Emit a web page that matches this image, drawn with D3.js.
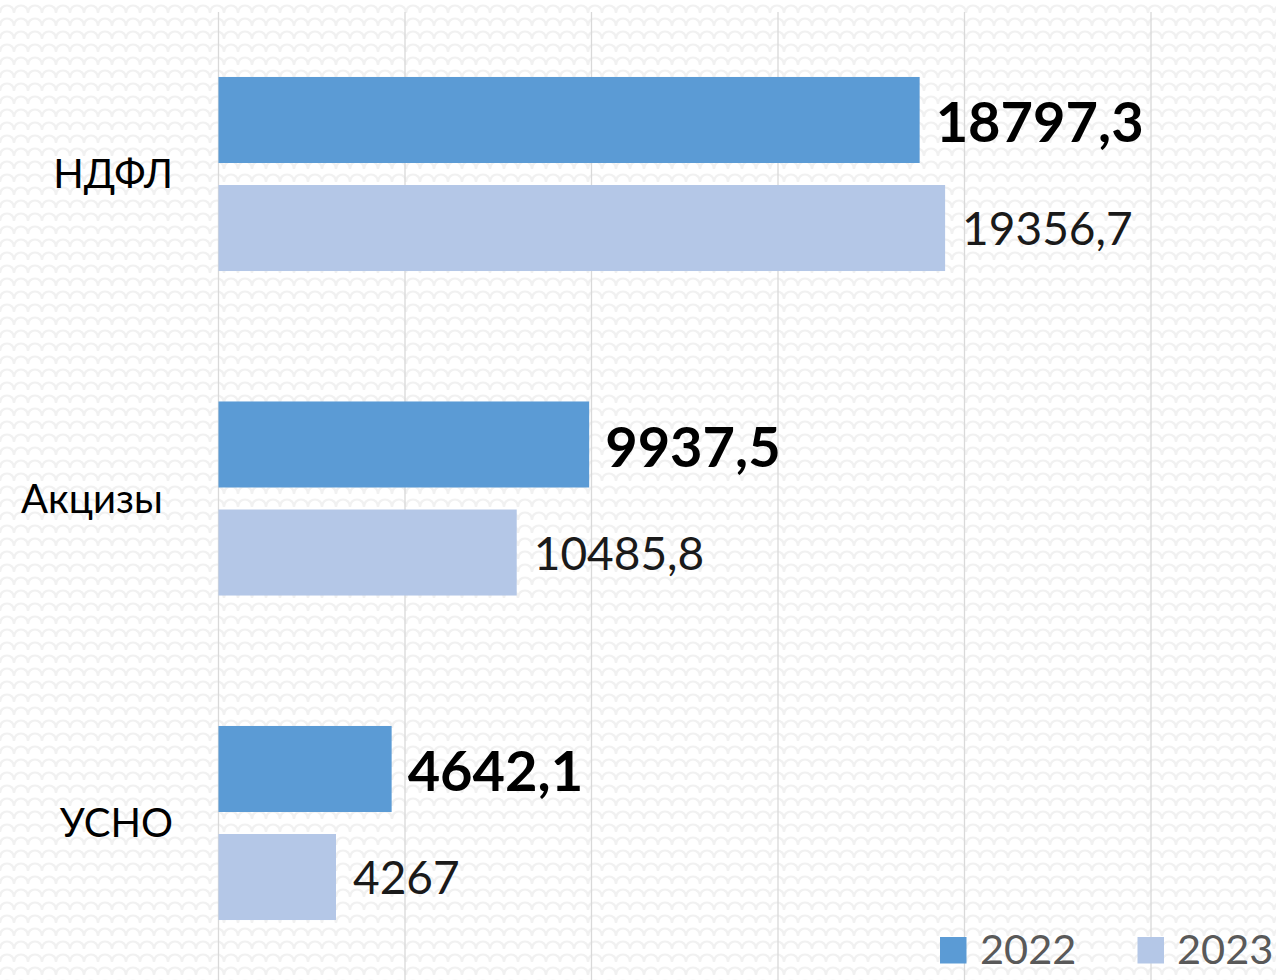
<!DOCTYPE html>
<html>
<head>
<meta charset="utf-8">
<script src="https://cdn.jsdelivr.net/npm/d3@7"></script>
<style>
  html, body { margin: 0; padding: 0; background: #fff; }
  svg { display: block; font-family: Lato, Carlito, Calibri, "Open Sans", sans-serif; }
</style>
</head>
<body>
<svg id="chart" width="1276" height="980"></svg>
<script>
// ---- data ----
const categories = ["НДФЛ", "Акцизы", "УСНО"];
const tickLabels = ["НДФЛ", "Акцизы\u00A0", "УСНО"];
const years = ["2022", "2023"];
const values2022 = [18797.3, 9937.5, 4642.1];
const values2023 = [19480, 7995, 3150];          // bar lengths as drawn
const labels2022 = ["18797,3", "9937,5", "4642,1"];
const labels2023 = ["19356,7", "10485,8", "4267"]; // printed data labels
const xTicks = [0, 5000, 10000, 15000, 20000, 25000];
const colors = ["#5B9BD5", "#B4C7E7"];

// ---- setup ----
const W = 1276, H = 980;
const svg = d3.select("#chart");

// background fish-scale pattern
const defs = svg.append("defs");
const pat = defs.append("pattern")
  .attr("id", "scales").attr("patternUnits", "userSpaceOnUse")
  .attr("width", 28).attr("height", 26);
pat.append("rect").attr("width", 28).attr("height", 26).attr("fill", "#ffffff");
pat.append("path")
  .attr("d", "M0,13 C0,3 14,3 14,13 C14,3 28,3 28,13 M-14,26 C-14,16 0,16 0,26 C0,16 14,16 14,26 C14,16 28,16 28,26 C28,16 42,16 42,26 M-14,0 C-14,-10 0,-10 0,0 C0,-10 14,-10 14,0 C14,-10 28,-10 28,0")
  .attr("fill", "none").attr("stroke", "#f1f1f1").attr("stroke-width", 2.2);
svg.append("rect").attr("width", W).attr("height", H).attr("fill", "url(#scales)");

const x = d3.scaleLinear().domain([0, 25000]).range([218.5, 1151]);
const y = d3.scaleBand().domain(categories).range([11.75, 985.25])
  .paddingInner(0.402).paddingOuter(0.201);
const yInner = d3.scaleBand().domain(years).range([0, y.bandwidth()])
  .paddingInner(0.2037).paddingOuter(0);

// gridlines
svg.append("g").selectAll("line").data(xTicks).join("line")
  .attr("x1", d => x(d)).attr("x2", d => x(d))
  .attr("y1", 12).attr("y2", H)
  .attr("stroke", "#d9d9d9").attr("stroke-width", 1.3);

// category axis labels
const yAxis = d3.axisLeft(y).tickSize(0).tickPadding(0)
  .tickFormat((d, i) => tickLabels[i]);
const gy = svg.append("g").attr("transform", "translate(173,0)").call(yAxis);
gy.select(".domain").remove();
gy.selectAll("text")
  .attr("font-size", 40).attr("fill", "#000")
  .attr("dy", "0.36em")
  .style("font-family", "Lato, Carlito, Calibri, sans-serif");

// bars
const series = [
  { year: "2022", values: values2022, labels: labels2022, color: colors[0], bold: true },
  { year: "2023", values: values2023, labels: labels2023, color: colors[1], bold: false }
];

series.forEach(s => {
  const g = svg.append("g");
  g.selectAll("rect").data(categories).join("rect")
    .attr("x", x(0))
    .attr("y", c => y(c) + yInner(s.year))
    .attr("width", (c, i) => x(s.values[i]) - x(0))
    .attr("height", yInner.bandwidth())
    .attr("fill", s.color);

  g.selectAll("text").data(categories).join("text")
    .attr("x", (c, i) => x(s.values[i]) + (s.bold ? 16 : 17))
    .attr("y", c => y(c) + yInner(s.year) + yInner.bandwidth() / 2)
    .attr("dy", s.bold ? "0.4em" : "0.37em")
    .attr("font-size", s.bold ? 56 : 46)
    .attr("font-weight", s.bold ? 700 : 400)
    .attr("fill", s.bold ? "#000" : "#1a1a1a")
    .text((c, i) => s.labels[i]);
});

// legend
const legendItems = [
  { label: "2022", color: colors[0], sx: 940, tx: 980 },
  { label: "2023", color: colors[1], sx: 1137.5, tx: 1177 }
];
const lg = svg.append("g");
legendItems.forEach(it => {
  lg.append("rect").attr("x", it.sx).attr("y", 937).attr("width", 26.5).attr("height", 26.5)
    .attr("fill", it.color);
  lg.append("text").attr("x", it.tx).attr("y", 963.5)
    .attr("font-size", 41.5).attr("fill", "#595959").text(it.label);
});
</script>
</body>
</html>
